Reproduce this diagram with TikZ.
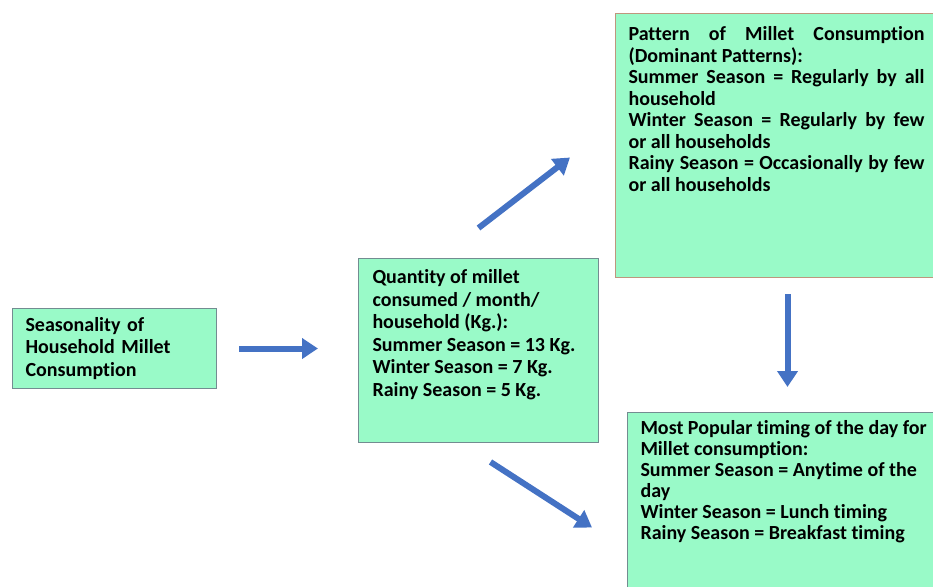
\documentclass[tikz,border=0pt]{standalone}
\usepackage{fontspec}
\setmainfont[Ligatures=NoCommon]{Carlito}
\usepackage{tikz}
\usetikzlibrary{arrows.meta}
\definecolor{mint}{RGB}{153,250,200}
\definecolor{bgrey}{RGB}{115,140,145}
\definecolor{tanline}{RGB}{190,150,125}
\definecolor{lblue}{RGB}{68,114,196}
\newcommand{\boxtxt}[3]{\parbox[c][#1][t]{#2}{\parindent=0pt #3}}

\begin{document}
\begin{tikzpicture}[x=1pt,y=-1pt,font=\fontsize{20}{22.5}\selectfont\bfseries,
  flow/.style={draw=lblue,line width=6pt,-{Triangle[length=16pt,width=20pt]}}]
  \tikzstyle{cell}=[draw=bgrey,fill=mint,line width=1pt,inner xsep=13pt,inner ysep=8pt,anchor=north west,align=left]
  \useasboundingbox (0,0) rectangle (933,586);
  \clip (0,0) rectangle (933,586);
  % boxes
  \node [cell,text width=178pt,minimum height=80pt] (seas) at (12,308) {Seasonality of\\Household Millet\\Consumption};
  \node [cell,inner xsep=14pt,inner ysep=11pt] (qty) at (358,258) {\boxtxt{162pt}{212pt}{Quantity of millet\\consumed / month/\\household (Kg.):\\Summer Season = 13 Kg.\\Winter Season = 7 Kg.\\Rainy Season = 5 Kg.}};
  \node [cell,draw=tanline,inner ysep=13pt] (patt) at (615,13) {\boxtxt{238pt}{296pt}{\fontsize{20}{21.5}\selectfont
    Pattern of Millet Consumption\linebreak (Dominant Patterns):\par
    Summer Season = Regularly by all\linebreak household\par
    Winter Season = Regularly by few\linebreak or all households\par
    Rainy Season = Occasionally by few\linebreak or all households}};
  \node [cell] (time) at (627,412) {\boxtxt{200pt}{300pt}{\fontsize{20}{21}\selectfont
    Most Popular timing of the day for\\Millet consumption:\\Summer Season = Anytime of the\\day\\Winter Season = Lunch timing\\Rainy Season = Breakfast timing}};
  % arrows
  \draw [flow] ([xshift=22pt]seas.east) -- ([xshift=-40pt]qty.west |- seas.east);
  \draw [flow] ([yshift=30pt]qty.north) -- ([xshift=-45pt,yshift=-12pt]patt.west);
  \draw [flow] ([xshift=12pt,yshift=-19pt]qty.south) -- ([xshift=-35pt,yshift=-7pt]time.west);
  \coordinate (dn) at ([xshift=11pt,yshift=-16pt]patt.south);
  \coordinate (tn) at ([yshift=25pt]time.north);
  \draw [flow] (dn) -- (dn |- tn);
\end{tikzpicture}
\end{document}
